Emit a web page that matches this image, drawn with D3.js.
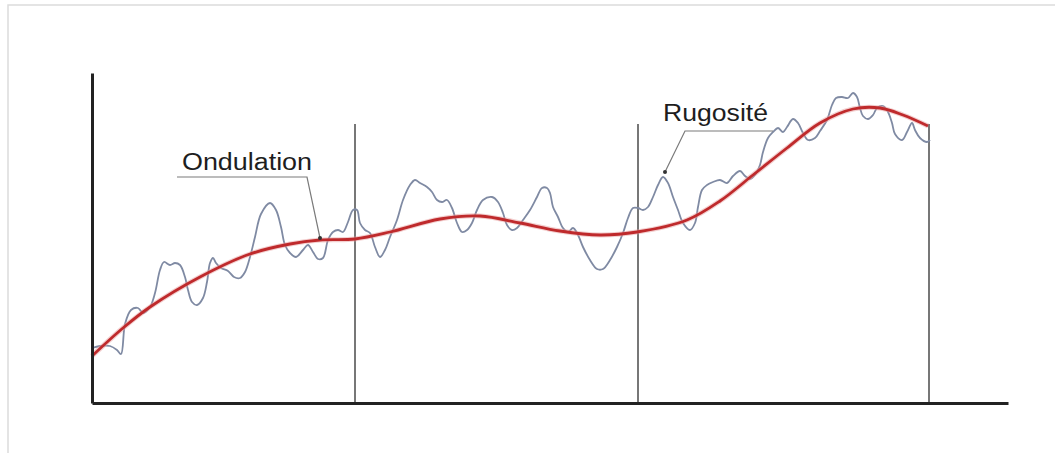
<!DOCTYPE html>
<html>
<head>
<meta charset="utf-8">
<script src="https://cdn.jsdelivr.net/npm/d3@7"></script>
<style>
  html, body { margin: 0; padding: 0; background: #fff; }
  svg { display: block; }
</style>
</head>
<body>
<svg id="chart"></svg>
<script>
// profile length units along x, height units along y
const xMax = 458;
const yMax = 165;

// sampling length boundaries (vertical markers) and their top height
const cuts = [131.5, 273, 418.5];
const cutTop = 139.5;

// waviness (smooth red profile)
const waviness = [
  [0, 23.5], [15.5, 37.5], [29, 48], [54, 63], [79, 74.5], [99, 79.5],
  [114, 81.5], [131.5, 82], [149, 85.5], [174, 92], [194, 93.5], [214, 90],
  [234, 86], [254, 84], [272.5, 85.5], [297.5, 91.5], [314, 101], [330.5, 114],
  [347.5, 127.5], [364, 140], [380.5, 147], [394, 147.5], [405.5, 144], [418, 138.5]
];

// roughness (raw measured profile)
const roughness = [
  [0, 27.5], [4, 28.5], [9, 28.5], [12.5, 26.5], [14.5, 24.5], [16.5, 39.5],
  [19.5, 46.5], [23, 47.5], [25.5, 45], [29, 48], [31.5, 55], [34, 66.5],
  [36, 70.5], [39, 69], [41.5, 70], [44, 69], [46.5, 63], [48, 56.5],
  [50, 50.5], [52.5, 49], [55.5, 52.5], [57.5, 60.5], [59, 70], [60.5, 72.5],
  [62, 70], [64.5, 67.5], [68, 66], [71, 63], [74, 62.5], [76.5, 65.5],
  [79, 73], [81.5, 83], [84.5, 94.5], [89, 100], [92, 96.5], [94.5, 88],
  [96.5, 79], [99, 75], [102, 73], [105.5, 76.5], [108, 79], [110.5, 75.5],
  [113, 72], [115.5, 72.5], [118, 81.5], [120.5, 85.5], [123, 86.5], [125.5, 85.5],
  [128, 90.5], [130.5, 96.5], [132.5, 96.5], [134, 90], [136.5, 86.5], [139, 85],
  [141.5, 78], [144, 73], [146.5, 76.5], [149, 83], [152.5, 91.5], [155.5, 101.5],
  [159, 109], [161.5, 111.5], [164, 110], [167.5, 108], [170, 105.5], [172.5, 101.5],
  [175, 100.5], [177.5, 101.5], [180, 97.5], [182.5, 90], [185, 85.5], [187.5, 86.5],
  [190, 90], [192.5, 96.5], [195.5, 101.5], [200, 103], [203, 100.5], [205.5, 95],
  [207.5, 89], [210, 86.5], [212.5, 87.5], [215.5, 91.5], [219, 96.5], [222.5, 103],
  [225, 107.5], [227.5, 107.5], [229, 105], [230.5, 98], [233, 93], [235.5, 87.5],
  [238, 85.5], [240.5, 87.5], [243, 84], [245.5, 78], [249, 71.5], [252.5, 67],
  [255.5, 67], [259, 71.5], [262.5, 78], [265.5, 85], [268, 92.5], [270.5, 97.5],
  [273, 97.5], [275.5, 96.5], [278, 98], [280.5, 103], [283, 109], [285.5, 113],
  [288, 110], [290.5, 103], [293, 96.5], [295.5, 90], [299, 86.5], [301.5, 90],
  [303, 98], [305, 106.5], [307.5, 109], [310.5, 110.5], [314, 111.5], [317.5, 110],
  [320.5, 113.5], [324, 116], [326.5, 113.5], [329, 112], [331.5, 114], [334, 119],
  [335.5, 125.5], [338, 132.5], [340.5, 135.5], [343, 137.5], [345.5, 135.5], [347.5, 138],
  [350.5, 142], [353, 140], [355.5, 135], [358, 131.5], [361.5, 132.5], [364, 136],
  [367.5, 141.5], [370, 149], [372, 152.5], [375, 153], [378, 152.5], [380.5, 155],
  [382.5, 153], [384, 147.5], [385.5, 143.5], [388, 142], [390.5, 144], [392.5, 147.5],
  [395.5, 148.5], [398, 145.5], [400, 140], [401.5, 134.5], [405, 131.5], [407.5, 135.5],
  [410, 140], [411.5, 136.5], [414, 132.5], [417.5, 130.5], [419, 131.5]
];

// annotations: label text, anchor, leader polyline
const labels = ["Ondulation", "Rugosité"];
const labelPos = [[45, 116.5], [285.5, 141]];
const leaders = [
  [[42.5, 113], [107.5, 113], [114, 82.5]],
  [[340.5, 136], [296.5, 136], [286.5, 115.5]]
];

const width = 1055;
const height = 453;

const svg = d3.select("#chart").attr("width", width).attr("height", height);

const x = d3.scaleLinear().domain([0, xMax]).range([92, 1008]);
const y = d3.scaleLinear().domain([0, yMax]).range([403, 73]);

// faint frame
svg.append("path")
  .attr("d", `M8,${height}V5H${width}`)
  .attr("fill", "none")
  .attr("stroke", "#dcdcdc")
  .attr("stroke-width", 1.5);

// sampling length markers
svg.append("g")
  .selectAll("line")
  .data(cuts)
  .join("line")
  .attr("x1", (d) => x(d))
  .attr("x2", (d) => x(d))
  .attr("y1", y(0))
  .attr("y2", y(cutTop))
  .attr("stroke", "#4a4a4a")
  .attr("stroke-width", 1.5);

// roughness profile
const rough = d3.line()
  .x((d) => x(d[0]))
  .y((d) => y(d[1]))
  .curve(d3.curveCatmullRom.alpha(0.5));

svg.append("path")
  .datum(roughness)
  .attr("fill", "none")
  .attr("stroke", "#7f8aa3")
  .attr("stroke-width", 1.8)
  .attr("stroke-linejoin", "round")
  .attr("d", rough);

// waviness profile
const wave = d3.line()
  .x((d) => x(d[0]))
  .y((d) => y(d[1]))
  .curve(d3.curveCatmullRom.alpha(0.5));

svg.append("path")
  .datum(waviness)
  .attr("fill", "none")
  .attr("stroke", "#e8a0a0")
  .attr("stroke-width", 5)
  .attr("stroke-opacity", 0.5)
  .attr("d", wave);

svg.append("path")
  .datum(waviness)
  .attr("fill", "none")
  .attr("stroke", "#bf2a2c")
  .attr("stroke-width", 2.8)
  .attr("d", wave);

// axes (no ticks, just the frame lines)
svg.append("g")
  .attr("transform", `translate(0,${y(0)})`)
  .call(d3.axisBottom(x).tickValues([]).tickSizeOuter(0))
  .call((g) => g.select(".domain").attr("stroke", "#222").attr("stroke-width", 3));

svg.append("g")
  .attr("transform", `translate(${x(0)},0)`)
  .call(d3.axisLeft(y).tickValues([]).tickSizeOuter(0))
  .call((g) => g.select(".domain").attr("stroke", "#222").attr("stroke-width", 3));

// leader lines
const lead = d3.line().x((d) => x(d[0])).y((d) => y(d[1]));

svg.append("g")
  .selectAll("path")
  .data(leaders)
  .join("path")
  .attr("fill", "none")
  .attr("stroke", "#7a7a7a")
  .attr("stroke-width", 1.2)
  .attr("d", lead);

svg.append("g")
  .selectAll("circle")
  .data(leaders)
  .join("circle")
  .attr("cx", (d) => x(d[d.length - 1][0]))
  .attr("cy", (d) => y(d[d.length - 1][1]))
  .attr("r", 2)
  .attr("fill", "#333");

// labels
const lengths = [130, 105];
svg.append("g")
  .selectAll("text")
  .data(labels)
  .join("text")
  .attr("x", (d, i) => x(labelPos[i][0]))
  .attr("y", (d, i) => y(labelPos[i][1]))
  .attr("textLength", (d, i) => lengths[i])
  .attr("lengthAdjust", "spacingAndGlyphs")
  .attr("font-family", "'Liberation Sans', Arial, sans-serif")
  .attr("font-size", 23)
  .attr("fill", "#1e1e1e")
  .text((d) => d);
</script>
</body>
</html>
